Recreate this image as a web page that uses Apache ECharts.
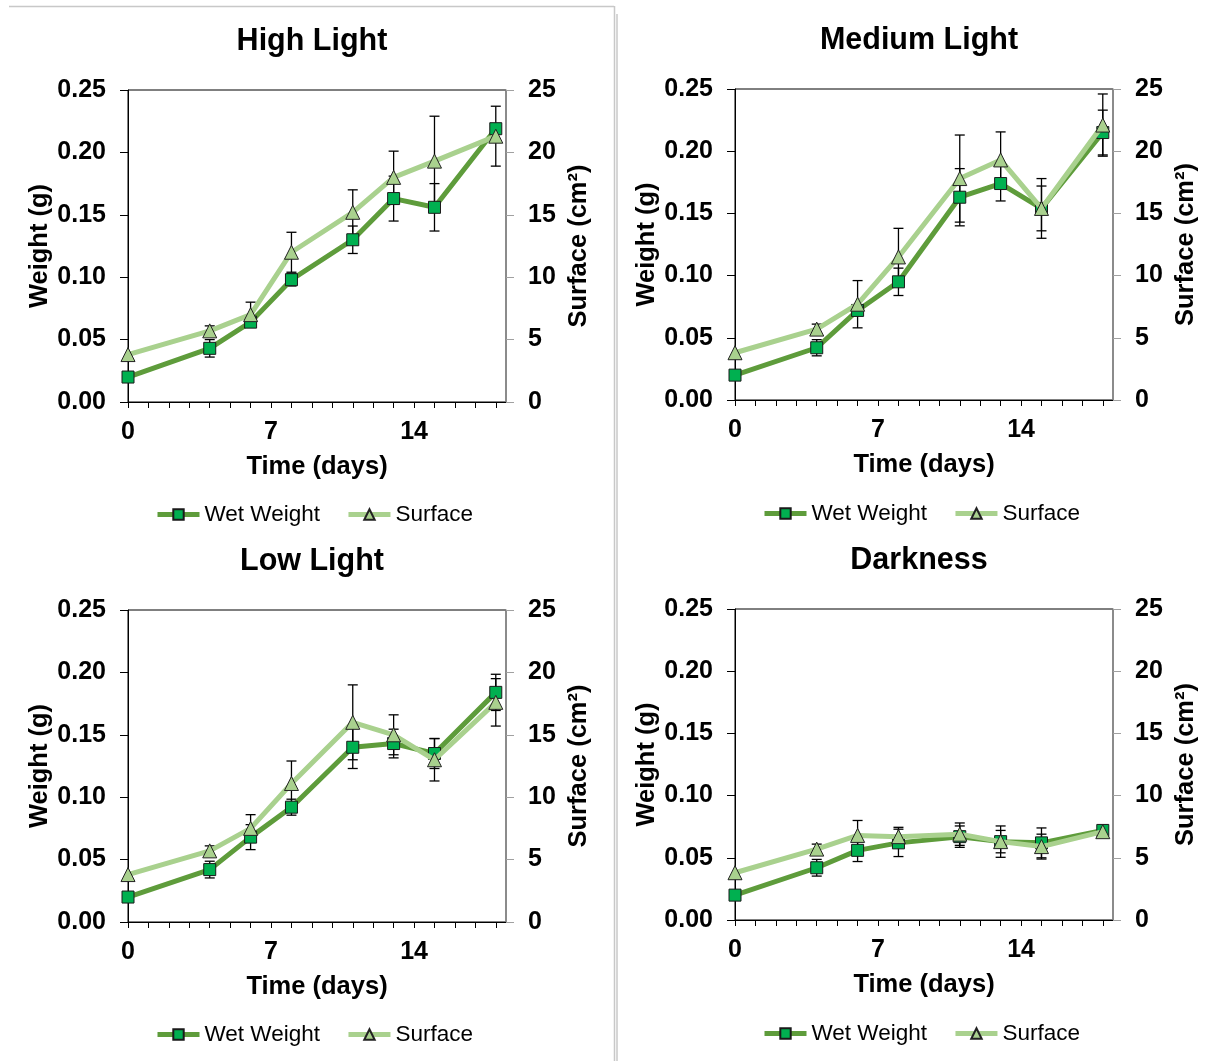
<!DOCTYPE html>
<html><head><meta charset="utf-8">
<script src="https://cdn.jsdelivr.net/npm/echarts@6/dist/echarts.min.js"></script>
<style>html,body{margin:0;padding:0;background:#fff}#c{width:1219px;height:1061px}</style>
</head><body><div id="c"></div>
<script>
// ---- data ----
const days = [0, 4, 6, 8, 11, 13, 15, 18];
const xTickValues = [0,1,2,3,4,5,6,7,8,9,10,11,12,13,14,15,16,17,18];
const xLabelValues = [0, 7, 14];
const panelTitles = ['High Light', 'Medium Light', 'Low Light', 'Darkness'];
const seriesNames = ['Wet Weight', 'Surface'];

const highWet = [0.020, 0.043, 0.064, 0.098, 0.130, 0.163, 0.156, 0.219];
const highWetErr = [0, 0.007, 0.002, 0.005, 0.011, 0.018, 0.019, 0.003];
const highSurf = [3.8, 5.7, 7.0, 12.0, 15.2, 18.0, 19.3, 21.3];
const highSurfErr = [0, 0.4, 1.0, 1.6, 1.8, 2.1, 3.6, 2.4];

const mediumWet = [0.020, 0.042, 0.072, 0.095, 0.163, 0.174, 0.154, 0.215];
const mediumWetErr = [0, 0.0065, 0.004, 0.011, 0.023, 0.014, 0.018, 0.018];
const mediumSurf = [3.8, 5.7, 7.7, 11.5, 17.8, 19.3, 15.4, 22.1];
const mediumSurfErr = [0, 0.4, 1.9, 2.3, 3.5, 2.25, 2.4, 2.5];

const lowWet = [0.020, 0.042, 0.068, 0.092, 0.140, 0.143, 0.135, 0.184];
const lowWetErr = [0, 0.0067, 0.010, 0.0064, 0.017, 0.0115, 0.012, 0.0145];
const lowSurf = [3.8, 5.7, 7.5, 11.1, 16.0, 15.0, 13.0, 17.6];
const lowSurfErr = [0, 0.4, 1.1, 1.8, 3.0, 1.6, 1.7, 1.9];

const darkWet = [0.020, 0.042, 0.056, 0.062, 0.067, 0.063, 0.062, 0.072];
const darkWetErr = [0, 0.0067, 0.009, 0.011, 0.0086, 0.0126, 0.012, 0.004];
const darkSurf = [3.8, 5.7, 6.8, 6.7, 6.9, 6.3, 5.9, 7.1];
const darkSurfErr = [0, 0.4, 1.2, 0.75, 0.9, 0.9, 1.0, 0.3];

const panelData = [
  [highWet, highWetErr, highSurf, highSurfErr],
  [mediumWet, mediumWetErr, mediumSurf, mediumSurfErr],
  [lowWet, lowWetErr, lowSurf, lowSurfErr],
  [darkWet, darkWetErr, darkSurf, darkSurfErr]
];

// ---- layout ----
const grids = [
  {left: 128, top: 90, width: 378, height: 312},
  {left: 735, top: 89, width: 378, height: 311},
  {left: 128, top: 610, width: 378, height: 312},
  {left: 735, top: 609, width: 378, height: 311}
];
const FONT = 'Arial, "Liberation Sans", sans-serif';
const darkLine = '#5e9c3b', lightLine = '#a9d18e';
const sqFill = '#00b050', triFill = '#a9d18e';

function errRender(params, api) {
  const x = api.value(0), lo = api.value(1), hi = api.value(2);
  if (hi - lo <= 0) return {type: 'group', children: []};
  const a = api.coord([x, lo]), b = api.coord([x, hi]);
  const w = 5;
  const st = {stroke: '#000', lineWidth: 1.3};
  return {type: 'group', children: [
    {type: 'line', shape: {x1: a[0], y1: a[1], x2: b[0], y2: b[1]}, style: st},
    {type: 'line', shape: {x1: b[0] - w, y1: b[1], x2: b[0] + w, y2: b[1]}, style: st},
    {type: 'line', shape: {x1: a[0] - w, y1: a[1], x2: a[0] + w, y2: a[1]}, style: st}
  ]};
}

const option = {
  backgroundColor: '#fff',
  animation: false,
  grid: [], xAxis: [], yAxis: [], series: [], legend: [], graphic: []
};

grids.forEach((g, i) => {
  option.grid.push(Object.assign({show: true, borderColor: '#000', borderWidth: 1, backgroundColor: 'transparent'}, g));
  option.xAxis.push({
    type: 'value', gridIndex: i, min: 0, max: 18.5,
    name: 'Time (days)', nameLocation: 'middle', nameGap: 52,
    nameTextStyle: {fontFamily: FONT, fontSize: 25.5, fontWeight: 'bold', color: '#000'},
    axisLine: {show: true, lineStyle: {color: '#000', width: 1}},
    axisTick: {show: true, length: 6, inside: false, lineStyle: {color: '#000'}, customValues: xTickValues},
    axisLabel: {fontFamily: FONT, fontSize: 25, fontWeight: 'bold', color: '#000', margin: 18, customValues: xLabelValues},
    splitLine: {show: false}
  });
  option.yAxis.push({
    type: 'value', gridIndex: i, position: 'left', min: 0, max: 0.25, interval: 0.05,
    name: 'Weight (g)', nameLocation: 'middle', nameGap: 72,
    nameTextStyle: {fontFamily: FONT, fontSize: 25.5, fontWeight: 'bold', color: '#000'},
    axisLine: {show: true, lineStyle: {color: '#000', width: 1}},
    axisTick: {show: true, length: 8, lineStyle: {color: '#000'}},
    axisLabel: {fontFamily: FONT, fontSize: 25, fontWeight: 'bold', color: '#000', margin: 22,
      formatter: v => v.toFixed(2)},
    splitLine: {show: false}
  });
  option.yAxis.push({
    type: 'value', gridIndex: i, position: 'right', min: 0, max: 25, interval: 5,
    name: 'Surface (cm²)', nameLocation: 'middle', nameGap: 60, nameRotate: 90,
    nameTextStyle: {fontFamily: FONT, fontSize: 25.5, fontWeight: 'bold', color: '#000'},
    axisLine: {show: true, lineStyle: {color: '#8f8f8f', width: 1.5}},
    axisTick: {show: true, length: 8, lineStyle: {color: '#a0a0a0'}},
    axisLabel: {fontFamily: FONT, fontSize: 25, fontWeight: 'bold', color: '#000', margin: 22},
    splitLine: {show: false}
  });
  const [wet, wetErr, surf, surfErr] = panelData[i];
  const yl = 2 * i, yr = 2 * i + 1;
  option.series.push({
    type: 'custom', name: 'wetErr' + i, xAxisIndex: i, yAxisIndex: yl, z: 1,
    renderItem: errRender, encode: {x: 0, y: [1, 2]},
    data: days.map((d, k) => [d, wet[k] - wetErr[k], wet[k] + wetErr[k]])
  });
  option.series.push({
    type: 'custom', name: 'surfErr' + i, xAxisIndex: i, yAxisIndex: yr, z: 1,
    renderItem: errRender, encode: {x: 0, y: [1, 2]},
    data: days.map((d, k) => [d, surf[k] - surfErr[k], surf[k] + surfErr[k]])
  });
  option.series.push({
    type: 'line', name: seriesNames[0], xAxisIndex: i, yAxisIndex: yl, z: 3,
    data: days.map((d, k) => [d, wet[k]]),
    symbol: 'rect', symbolSize: 12,
    lineStyle: {color: darkLine, width: 5},
    itemStyle: {color: sqFill, borderColor: '#1a1a1a', borderWidth: 1}
  });
  option.series.push({
    type: 'line', name: seriesNames[1], xAxisIndex: i, yAxisIndex: yr, z: 4,
    data: days.map((d, k) => [d, surf[k]]),
    symbol: 'triangle', symbolSize: 14,
    lineStyle: {color: lightLine, width: 5},
    itemStyle: {color: triFill, borderColor: '#222', borderWidth: 1}
  });
  const legTop = [503, 502, 1023, 1022][i];
  const legLeft = [155, 762, 155, 762][i];
  option.legend.push({
    data: seriesNames, left: legLeft, top: legTop, itemWidth: 42, itemHeight: 13, itemGap: 26,
    padding: 0,
    lineStyle: {width: 5},
    textStyle: {fontFamily: FONT, fontSize: 22.5, color: '#000'}
  });
  const tc = [[312, 42], [919, 41], [312, 562], [919, 561]][i];
  option.graphic.push({
    type: 'text', x: tc[0], y: tc[1], silent: true,
    style: {text: panelTitles[i], align: 'center', verticalAlign: 'middle',
      fontFamily: FONT, fontSize: 30.5, fontWeight: 'bold', fill: '#000'}
  });
});

// decorative frame lines of the original figure
option.graphic.push(
  {type: 'line', shape: {x1: 9, y1: 6.5, x2: 614, y2: 6.5}, style: {stroke: '#c8c8c8', lineWidth: 1.5}, silent: true},
  {type: 'line', shape: {x1: 614.5, y1: 6, x2: 614.5, y2: 1061}, style: {stroke: '#c8c8c8', lineWidth: 1.5}, silent: true},
  {type: 'line', shape: {x1: 617, y1: 14, x2: 617, y2: 1061}, style: {stroke: '#c8c8c8', lineWidth: 1.5}, silent: true}
);

const chart = echarts.init(document.getElementById('c'), null, {renderer: 'canvas'});
chart.setOption(option);
</script>
</body></html>
